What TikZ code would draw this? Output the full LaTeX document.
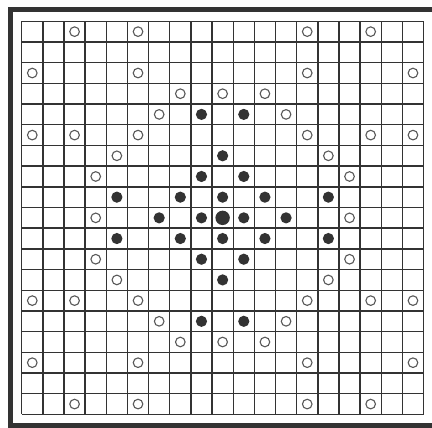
\documentclass[tikz,border=0pt]{standalone}
\begin{document}
\begin{tikzpicture}[x=1pt,y=-1pt,
  gridline/.style={line width=1.4pt,draw=black!80},
  opendot/.style={draw=black!65,line width=1.1pt,fill=white},
  fulldot/.style={fill=black!80,draw=none}]
\useasboundingbox (0,0) rectangle (432,428);
\fill[white] (0,0) rectangle (432,428);
% frame (right side lies beyond the picture)
\draw[line width=5pt,draw=black!80] (436,9.5) -- (10.7,9.5) -- (10.7,425.5) -- (436,425.5);
% grid
\def\ox{21.7}\def\oy{21.3}
\def\gx{21.15}\def\gy{20.69}
\foreach \i in {0,...,19}{
  \draw[gridline] ({\ox+\i*\gx},\oy) -- ({\ox+\i*\gx},{\oy+19*\gy});
  \draw[gridline] (\ox,{\oy+\i*\gy}) -- ({\ox+19*\gx},{\oy+\i*\gy});
}
\foreach \c/\r in {2/0,5/0,13/0,16/0,0/2,5/2,13/2,18/2,7/3,9/3,11/3,6/4,12/4,0/5,2/5,5/5,13/5,16/5,18/5,4/6,14/6,3/7,15/7,3/9,15/9,3/11,15/11,4/12,14/12,0/13,2/13,5/13,13/13,16/13,18/13,6/14,12/14,7/15,9/15,11/15,0/16,5/16,13/16,18/16,2/18,5/18,13/18,16/18}
  \draw[opendot] ({\ox+(\c+0.5)*\gx},{\oy+(\r+0.5)*\gy}) circle (4.8);
\foreach \c/\r in {8/4,10/4,9/6,8/7,10/7,4/8,7/8,9/8,11/8,14/8,6/9,8/9,10/9,12/9,4/10,7/10,9/10,11/10,14/10,8/11,10/11,9/12,8/14,10/14}
  \fill[fulldot] ({\ox+(\c+0.5)*\gx},{\oy+(\r+0.5)*\gy}) circle (5.6);
\fill[fulldot] ({\ox+9.5*\gx},{\oy+9.5*\gy}) circle (7.2);
\end{tikzpicture}
\end{document}
